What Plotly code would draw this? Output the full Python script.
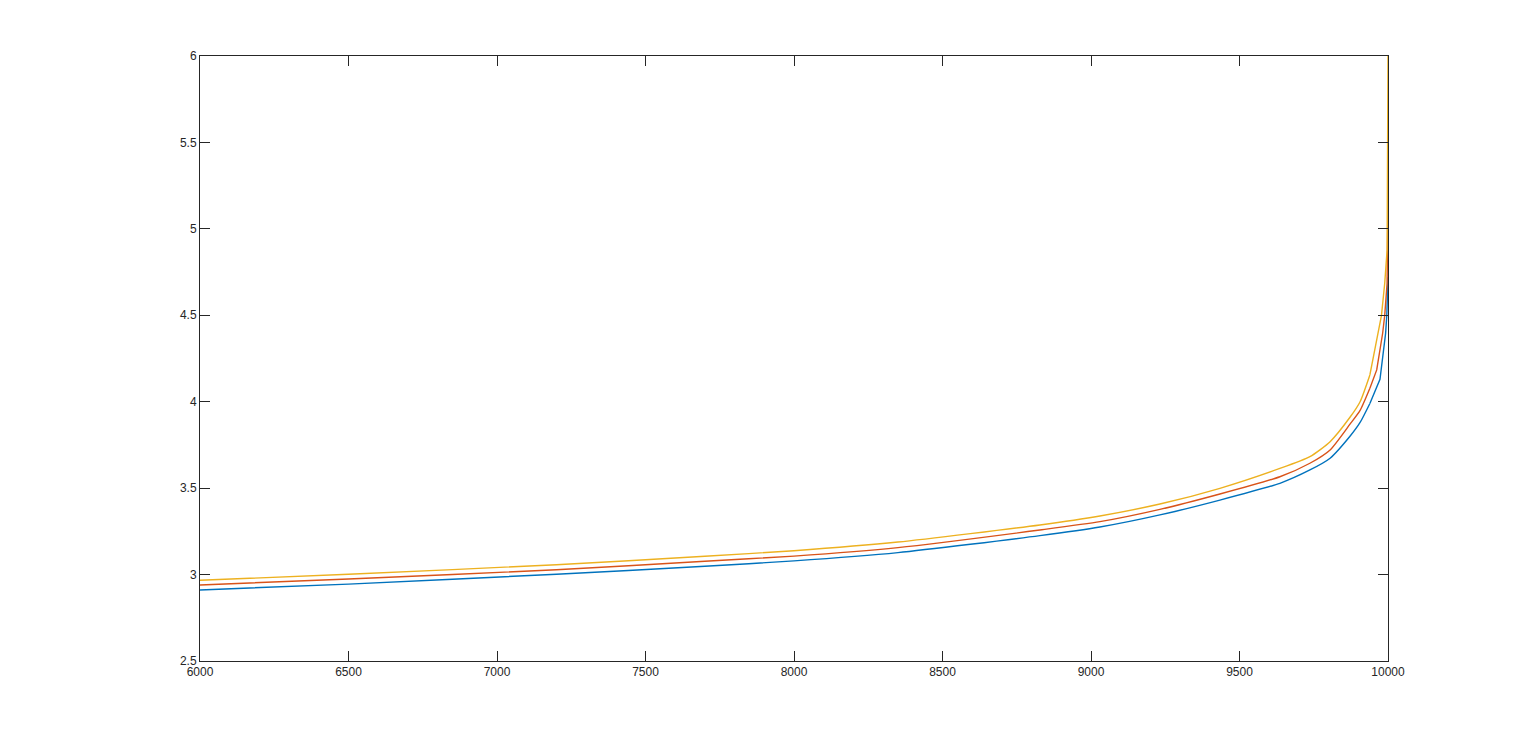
import plotly.graph_objects as go

# values
base_x = [6000, 6500, 7200, 7700, 8000, 8350, 8828, 9030, 9232, 9434,
          9636, 9737, 9805, 9872, 9906, 9939]
blue_base = [2.911, 2.945, 3.002, 3.048, 3.079, 3.127, 3.225, 3.275, 3.345, 3.431,
             3.528, 3.605, 3.673, 3.800, 3.880, 3.990]
red_base = [2.940, 2.974, 3.028, 3.077, 3.107, 3.156, 3.258, 3.306, 3.377, 3.466,
            3.566, 3.644, 3.721, 3.870, 3.950, 4.078]
yellow_base = [2.967, 3.002, 3.057, 3.106, 3.138, 3.188, 3.287, 3.339, 3.408, 3.499,
               3.614, 3.682, 3.769, 3.910, 4.000, 4.155]

# steep ends near x = 10000
blue_tail_x = [9973, 9992, 9996, 10000]
blue_tail = [4.13, 4.396, 4.50, 4.72]
red_tail_x = [9962, 9982, 9989, 9997, 10000]
red_tail = [4.184, 4.396, 4.50, 4.685, 5.16]
yellow_tail_x = [9967, 9978, 9989, 9997, 10000]
yellow_tail = [4.396, 4.50, 4.685, 4.878, 6.00]

x_ticks = [6000, 6500, 7000, 7500, 8000, 8500, 9000, 9500, 10000]
y_ticks = [2.5, 3, 3.5, 4, 4.5, 5, 5.5, 6]

series = [
    (blue_base, blue_tail_x, blue_tail, "#0072BD"),
    (red_base, red_tail_x, red_tail, "#D95319"),
    (yellow_base, yellow_tail_x, yellow_tail, "#EDB120"),
]

fig = go.Figure()
for ys, tx, ty, c in series:
    # smooth body
    fig.add_trace(go.Scatter(x=base_x, y=ys, mode="lines",
                             line=dict(color=c, width=1.4, shape="spline", smoothing=0.6),
                             showlegend=False))
    # steep end, straight segments so it doesn't overshoot past 10000
    fig.add_trace(go.Scatter(x=base_x[-1:] + tx, y=ys[-1:] + ty, mode="lines",
                             line=dict(color=c, width=1.4),
                             showlegend=False))

axis_style = dict(
    showline=True, linecolor="#262626", linewidth=1, mirror="ticks",
    ticks="inside", ticklen=10, tickcolor="#262626", showgrid=False,
    zeroline=False, tickfont=dict(family="Liberation Sans, Arial", size=12, color="#262626"),
)

fig.update_layout(
    width=1536, height=744,
    margin=dict(l=192, r=156, t=48, b=91),
    paper_bgcolor="white", plot_bgcolor="white",
    xaxis=dict(range=[6000, 10000], tickvals=x_ticks,
               ticktext=[str(v) for v in x_ticks], **axis_style),
    yaxis=dict(range=[2.5, 6], tickvals=y_ticks,
               ticktext=["2.5", "3", "3.5", "4", "4.5", "5", "5.5", "6"], **axis_style),
)

fig.write_html("out.html")
